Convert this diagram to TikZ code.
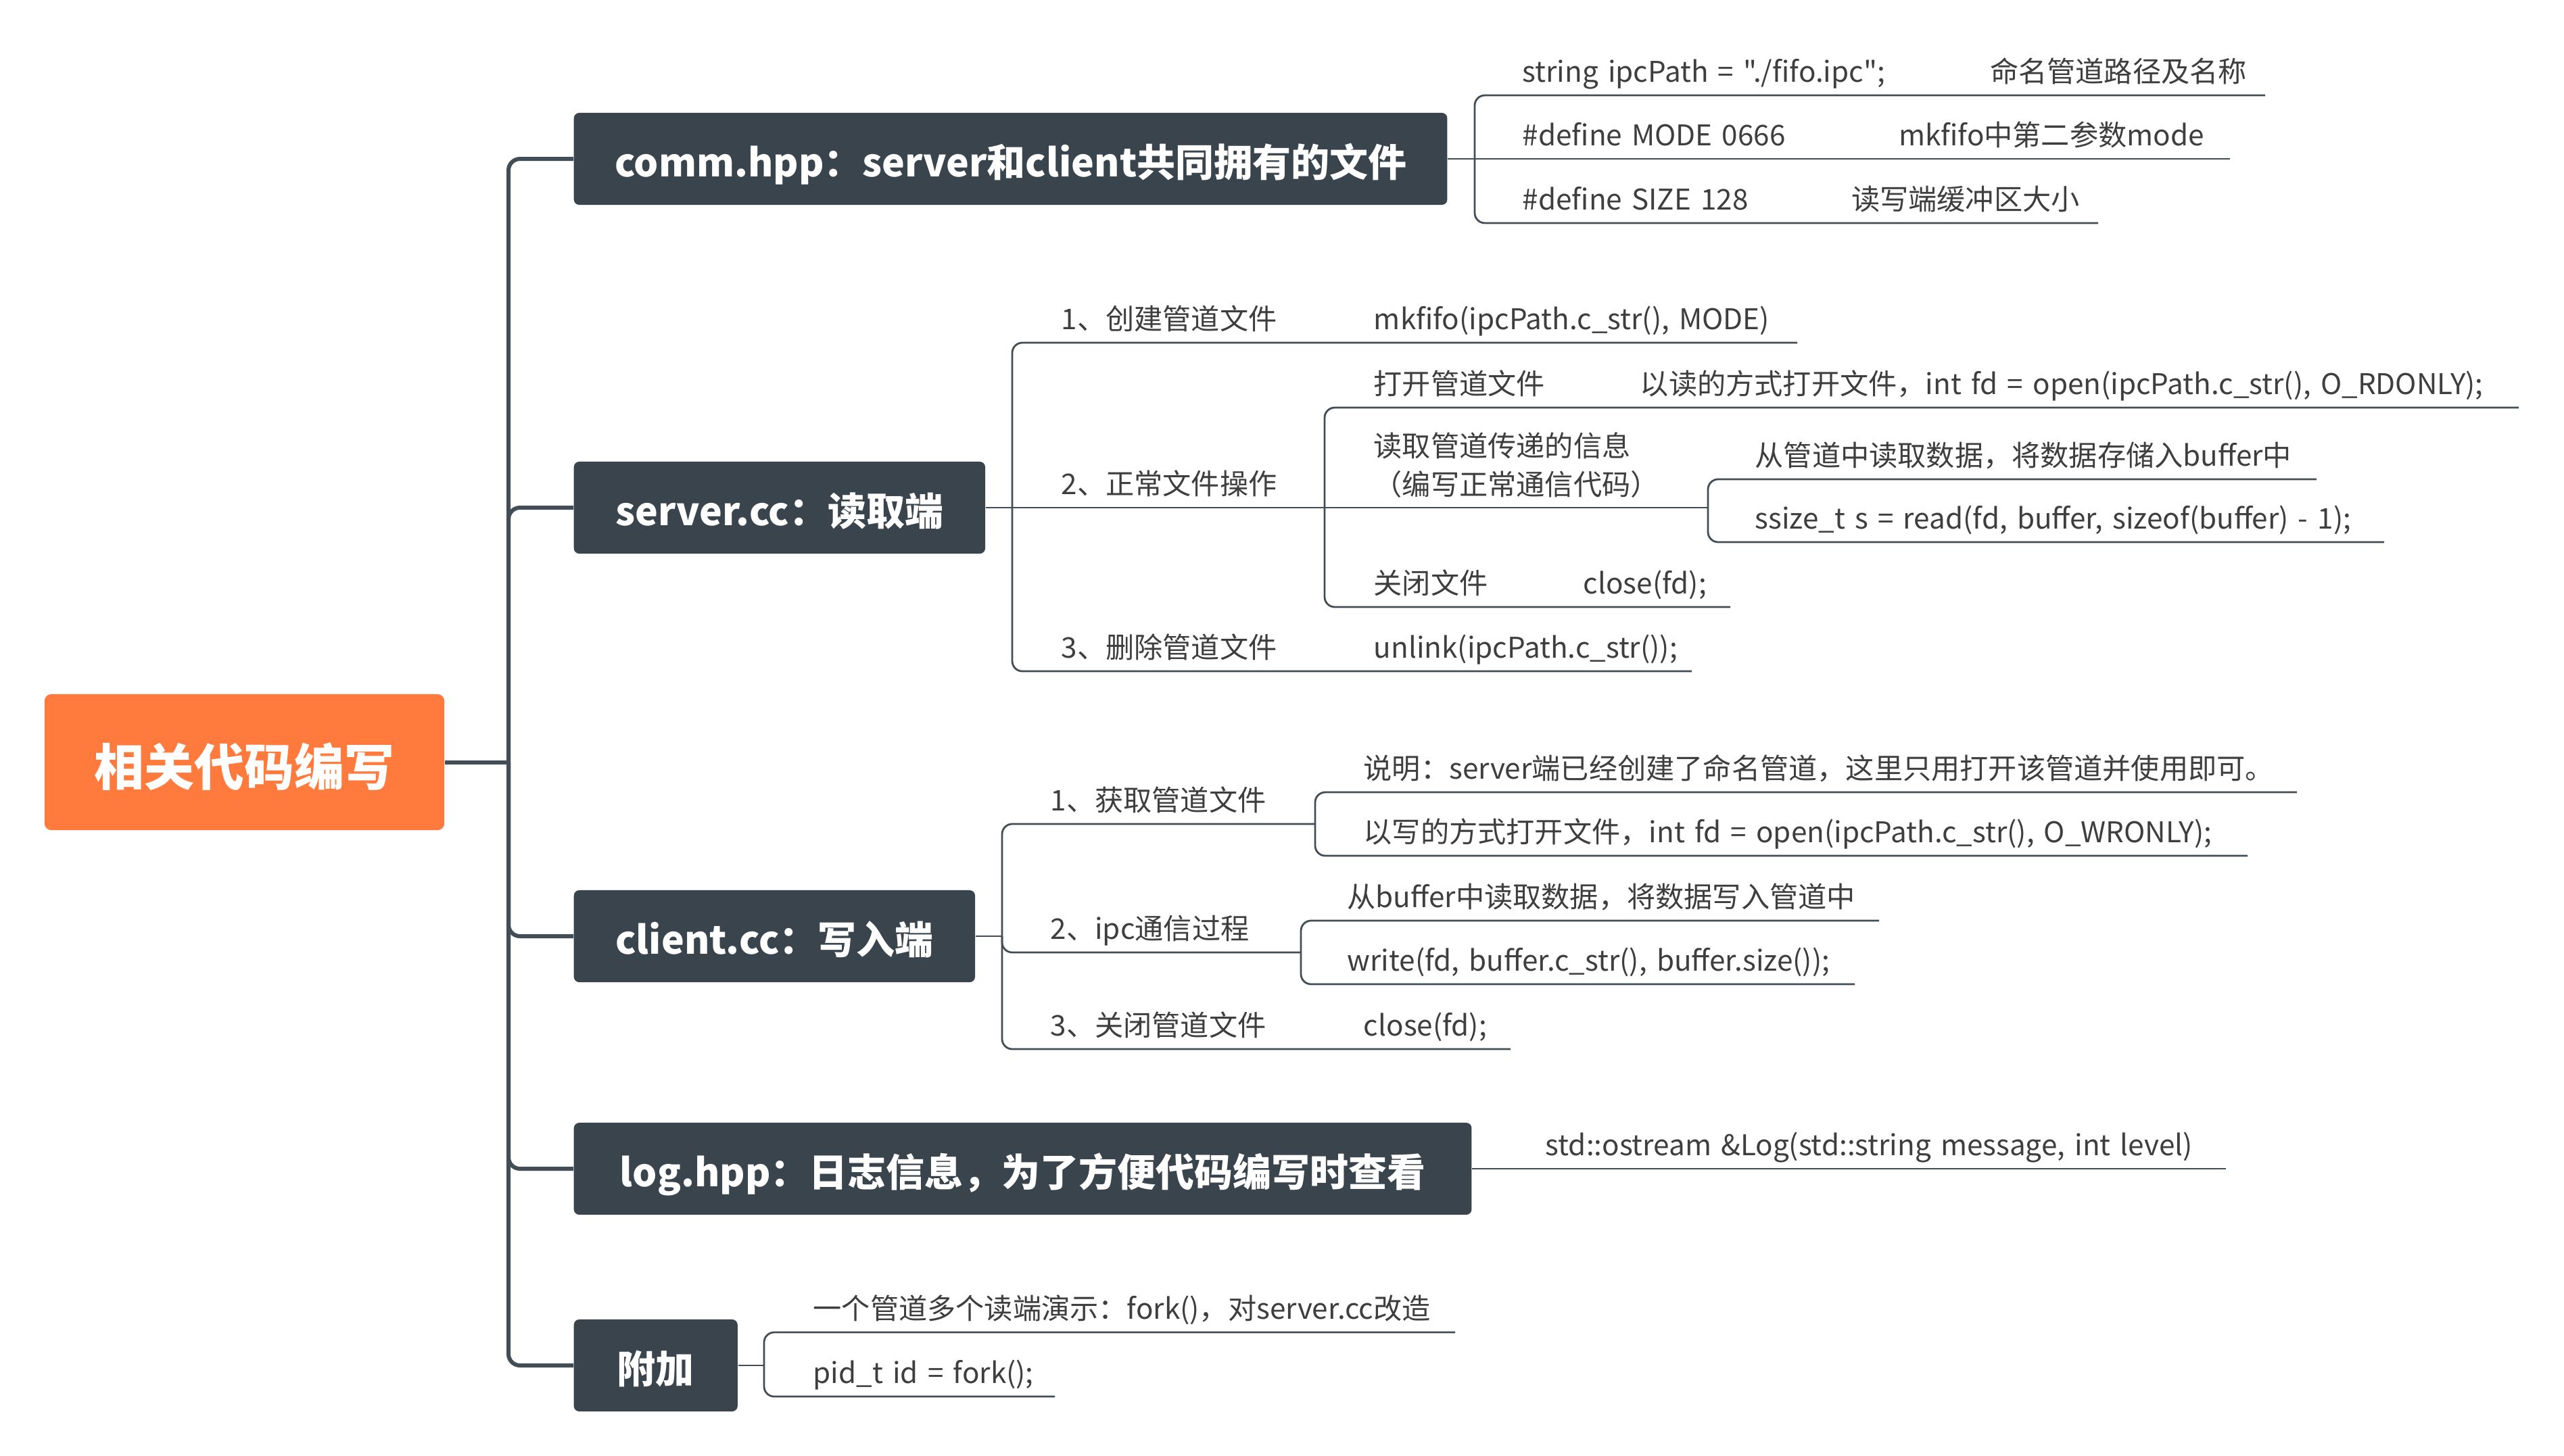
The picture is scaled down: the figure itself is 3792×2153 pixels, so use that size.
\documentclass[tikz,border=0pt]{standalone}
\usepackage{fontspec}
\setmainfont{Noto Sans CJK SC}[Ligatures=TeXOff, WordSpace=1.5]
\usepackage{tikz}
\usetikzlibrary{positioning}
\definecolor{rootorange}{RGB}{255,122,61}
\definecolor{boxslate}{RGB}{58,68,77}
\definecolor{lineslate}{RGB}{67,77,86}
\definecolor{leaftext}{RGB}{62,62,62}

\begin{document}
\begin{tikzpicture}[
    x=0.01cm, y=-0.01cm,
    rootbox/.style={rectangle, fill=rootorange, rounded corners=1mm, minimum width=5.91cm, minimum height=2.01cm, text height=21pt, text depth=1pt, font=\fontsize{21}{25}\selectfont\bfseries, text=white},
    mainbox/.style={rectangle, fill=boxslate, rounded corners=0.8mm, minimum height=1.36cm, anchor=west, text height=16pt, text depth=1.2pt, font=\fontsize{16.2}{20}\selectfont\bfseries, text=white, inner xsep=0pt},
    leaf/.style={anchor=base west, inner sep=0pt, align=left, font=\fontsize{12}{16}\selectfont, text=leaftext},
    trunk/.style={draw=lineslate, line width=0.6mm, rounded corners=1.7mm},
    twig/.style={draw=lineslate, line width=0.28mm, rounded corners=1.5mm}
]
\useasboundingbox (0,0) rectangle (3792,2153);

% === ROOT ===
\node[rootbox] (root) at (361.5,1127.5) {相关代码编写};
\coordinate (tj) at (752,1127.5);

% === MAIN TOPICS ===
\node[mainbox, minimum width=12.91cm] (comm) at (848,235) {comm.hpp：server和client共同拥有的文件};
\node[mainbox, minimum width=6.08cm] (server) at (848,751) {server.cc：读取端};
\node[mainbox, minimum width=5.93cm] (client) at (848,1385) {client.cc：写入端};
\node[mainbox, minimum width=13.27cm] (log) at (848,1729) {log.hpp：日志信息，为了方便代码编写时查看};
\node[mainbox, minimum width=2.42cm] (extra) at (848,2020) {附加};

\draw[trunk] (root.east) -- (tj);
\draw[trunk] (tj) |- (comm.west);
\draw[trunk] (tj) |- (server.west);
\draw[trunk] (tj) |- (client.west);
\draw[trunk] (tj) |- (log.west);
\draw[trunk] (tj) |- (extra.west);

% === comm.hpp ===
\coordinate (commj) at (2181,235);
\node[leaf] (cm1) at (2251,121) {\makebox[6.91cm][l]{string ipcPath = "./fifo.ipc";}命名管道路径及名称};
\node[leaf] (cm2) at (2251,215) {\makebox[5.56cm][l]{\#define MODE 0666}mkfifo中第二参数mode};
\node[leaf] (cm3) at (2251,310) {\makebox[4.86cm][l]{\#define SIZE 128}读写端缓冲区大小};
\coordinate (cm1e) at (3350,141);
\coordinate (cm2e) at (3298,235);
\coordinate (cm3e) at (3103,330);

\draw[twig] (comm.east) -- (commj);
\draw[twig] (commj) |- (cm1e);
\draw[twig] (commj) -- (cm2e);
\draw[twig] (commj) |- (cm3e);

% === server.cc ===
\coordinate (serverj) at (1497,751);
\node[leaf] (s1) at (1569,487) {\makebox[4.62cm][l]{1、创建管道文件}mkfifo(ipcPath.c\_str(), MODE)};
\node[leaf] (s2) at (1569,731) {2、正常文件操作};
\node[leaf] (s3) at (1569,973) {\makebox[4.62cm][l]{3、删除管道文件}unlink(ipcPath.c\_str());};
\coordinate (s1e) at (2658,507);
\coordinate (s2j) at (1959,751);
\coordinate (s3e) at (2502,993);

\node[leaf] (s21) at (2031,583) {\makebox[3.94cm][l]{打开管道文件}以读的方式打开文件，int fd = open(ipcPath.c\_str(), O\_RDONLY);};
\node[leaf] (s22) at (2031,732) {读取管道传递的信息\\（编写正常通信代码）};
\node[leaf] (s23) at (2031,878) {\makebox[3.10cm][l]{关闭文件}close(fd);};
\coordinate (s21e) at (3725,603);
\coordinate (s22j) at (2526,751);
\coordinate (s23e) at (2559,898);

\node[leaf] (s221) at (2595,689) {从管道中读取数据，将数据存储入buffer中};
\node[leaf] (s222) at (2595,782) {ssize\_t s = read(fd, buffer, sizeof(buffer) - 1);};
\coordinate (s221e) at (3426,709);
\coordinate (s222e) at (3526,802);

\draw[twig] (server.east) -- (serverj);
\draw[twig] (serverj) |- (s1e);
\draw[twig] (serverj) -- (s2j);
\draw[twig] (serverj) |- (s3e);
\draw[twig] (s2j) |- (s21e);
\draw[twig] (s2j) -- (s22j);
\draw[twig] (s2j) |- (s23e);
\draw[twig] (s22j) |- (s221e);
\draw[twig] (s22j) |- (s222e);

% === client.cc ===
\coordinate (clientj) at (1482,1385);
\node[leaf] (c1) at (1553,1199) {1、获取管道文件};
\node[leaf] (c2) at (1553,1389) {2、ipc通信过程};
\node[leaf] (c3) at (1553,1532) {\makebox[4.63cm][l]{3、关闭管道文件}close(fd);};
\coordinate (c1j) at (1945,1219);
\coordinate (c2j) at (1924,1409);
\coordinate (c3e) at (2234,1552);

\node[leaf] (c11) at (2016,1152) {说明：server端已经创建了命名管道，这里只用打开该管道并使用即可。};
\node[leaf] (c12) at (2016,1246) {以写的方式打开文件，int fd = open(ipcPath.c\_str(), O\_WRONLY);};
\node[leaf] (c21) at (1992,1342) {从buffer中读取数据，将数据写入管道中};
\node[leaf] (c22) at (1992,1436) {write(fd, buffer.c\_str(), buffer.size());};
\coordinate (c11e) at (3397,1172);
\coordinate (c12e) at (3324,1266);
\coordinate (c21e) at (2779,1362);
\coordinate (c22e) at (2743,1456);

\draw[twig] (client.east) -- (clientj);
\draw[twig] (clientj) |- (c1j);
\draw[twig] (clientj) |- (c2j);
\draw[twig] (clientj) |- (c3e);
\draw[twig] (c1j) |- (c11e);
\draw[twig] (c1j) |- (c12e);
\draw[twig] (c2j) |- (c21e);
\draw[twig] (c2j) |- (c22e);

% === log.hpp ===
\node[leaf] (l1) at (2285,1709) {std::ostream \&Log(std::string message, int level)};
\coordinate (l1e) at (3292,1729);
\draw[twig] (log.east) -- (l1e);

% === extra ===
\coordinate (extraj) at (1130,2020);
\node[leaf] (e1) at (1202,1951) {一个管道多个读端演示：fork()，对server.cc改造};
\node[leaf] (e2) at (1202,2046) {pid\_t id = fork();};
\coordinate (e1e) at (2152,1971);
\coordinate (e2e) at (1560,2066);

\draw[twig] (extra.east) -- (extraj);
\draw[twig] (extraj) |- (e1e);
\draw[twig] (extraj) |- (e2e);

\end{tikzpicture}
\end{document}
